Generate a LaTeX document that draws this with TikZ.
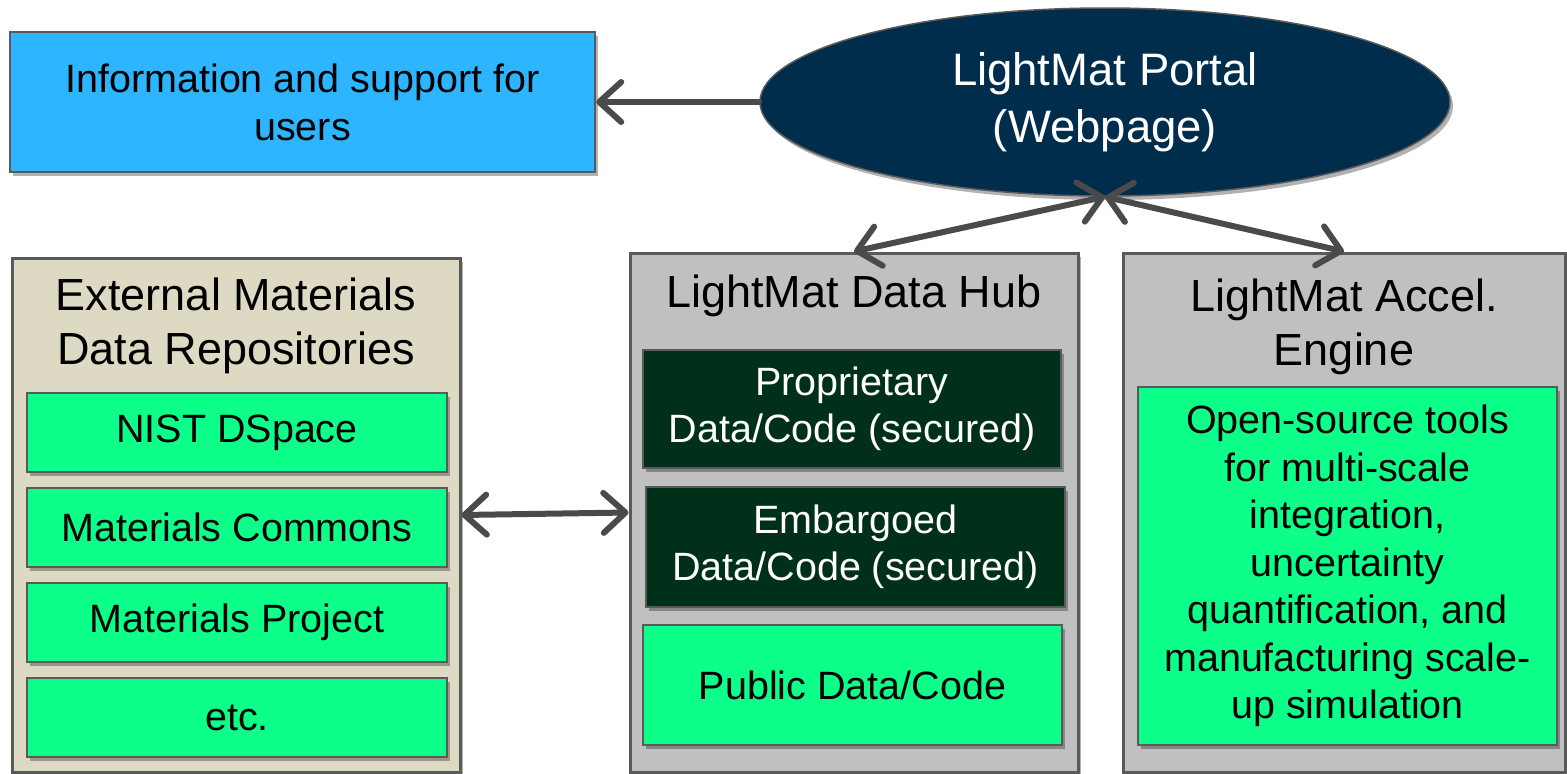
\documentclass[tikz,border=0pt]{standalone}
\usepackage{fontspec}
\setmainfont{Liberation Sans}
\usetikzlibrary{positioning,arrows.meta,shapes.geometric,shadows}

\definecolor{infoblue}{HTML}{2DB5FF}
\definecolor{portalnavy}{HTML}{002D4B}
\definecolor{repobeige}{HTML}{DDD9C3}
\definecolor{hubgray}{HTML}{C0C0C0}
\definecolor{toolgreen}{HTML}{0CFF88}
\definecolor{securegreen}{HTML}{00301A}
\definecolor{linkgray}{HTML}{4A4A4A}
\definecolor{edgegray}{HTML}{5A5A5A}

\tikzset{
  softshadow/.style={drop shadow={shadow xshift=3pt,shadow yshift=-4pt,fill=black,opacity=0.3}},
  panel/.style={draw=edgegray, line width=3pt, inner sep=0pt, softshadow},
  paneltitle/.style={inner sep=0pt, align=center, font=\fontsize{45}{54}\selectfont},
  item/.style={draw=edgegray, line width=2.5pt, fill=toolgreen, inner sep=0pt,
    align=center, minimum width=419, font=\fontsize{39.5}{47.5}\selectfont, softshadow},
  secureitem/.style={item, fill=securegreen, text=white},
  link/.style={draw=linkgray, line width=6pt, line cap=round},
}

\begin{document}
\begin{tikzpicture}[x=1pt, y=-1pt, >={Straight Barb[length=22pt,width=40pt,round]}]
\useasboundingbox[fill=white] (0,0) rectangle (1567,774);

% top row
\node[panel, fill=infoblue, line width=2.5pt, minimum width=585, minimum height=140,
  align=center, font=\fontsize{39.5}{48}\selectfont] (info) at (302.5,102)
  {Information and support for\\users};
\node[ellipse, draw=edgegray, line width=1.5pt, fill=portalnavy, text=white, softshadow,
  minimum width=690, minimum height=188, inner sep=0pt, align=center,
  font=\fontsize{45.5}{57}\selectfont] (portal) at (1105,102)
  {LightMat Portal\\(Webpage)};

% external repositories
\node[panel, fill=repobeige, minimum width=448, minimum height=514] (ext) at (236,515) {};
\node[paneltitle, below=21pt of ext.north] (exttitle) {External Materials\\Data Repositories};
\foreach \txt [count=\i] in {NIST DSpace, Materials Commons, Materials Project, etc.}
  \node[item, minimum width=420, minimum height=79] (repo\i) at (237,{432.5+95*(\i-1)}) {\txt};

% data hub
\node[panel, fill=hubgray, minimum width=448, minimum height=519] (hub) at (854,512.5) {};
\node[paneltitle, below=23pt of hub.north] (hubtitle) {LightMat Data Hub};
\node[secureitem, minimum width=418, minimum height=118] (prop) at (852,409)
  {Proprietary\\Data/Code (secured)};
\node[secureitem, minimum height=120] (emb) at (855.5,547)
  {Embargoed\\Data/Code (secured)};
\node[item, minimum height=120] (pub) at (852.5,685) {Public Data/Code};

% acceleration engine
\node[panel, fill=hubgray, minimum width=442, minimum height=519] (accel) at (1344,512.5) {};
\node[paneltitle, below=27pt of accel.north] (acceltitle) {LightMat Accel.\\Engine};
\node[item, minimum height=358] (tools) at (1347.5,566)
  {Open-source tools\\for multi-scale\\integration,\\uncertainty\\quantification, and\\manufacturing scale-\\up simulation};

% connectors
\draw[link, ->] (portal.west) -- (info.east);
\draw[link, <->] (portal.south) -- (hub.north);
\draw[link, <->] (portal.south) -- (accel.north);
\draw[link, <->] (ext.east) -- (hub.west);
\end{tikzpicture}
\end{document}
